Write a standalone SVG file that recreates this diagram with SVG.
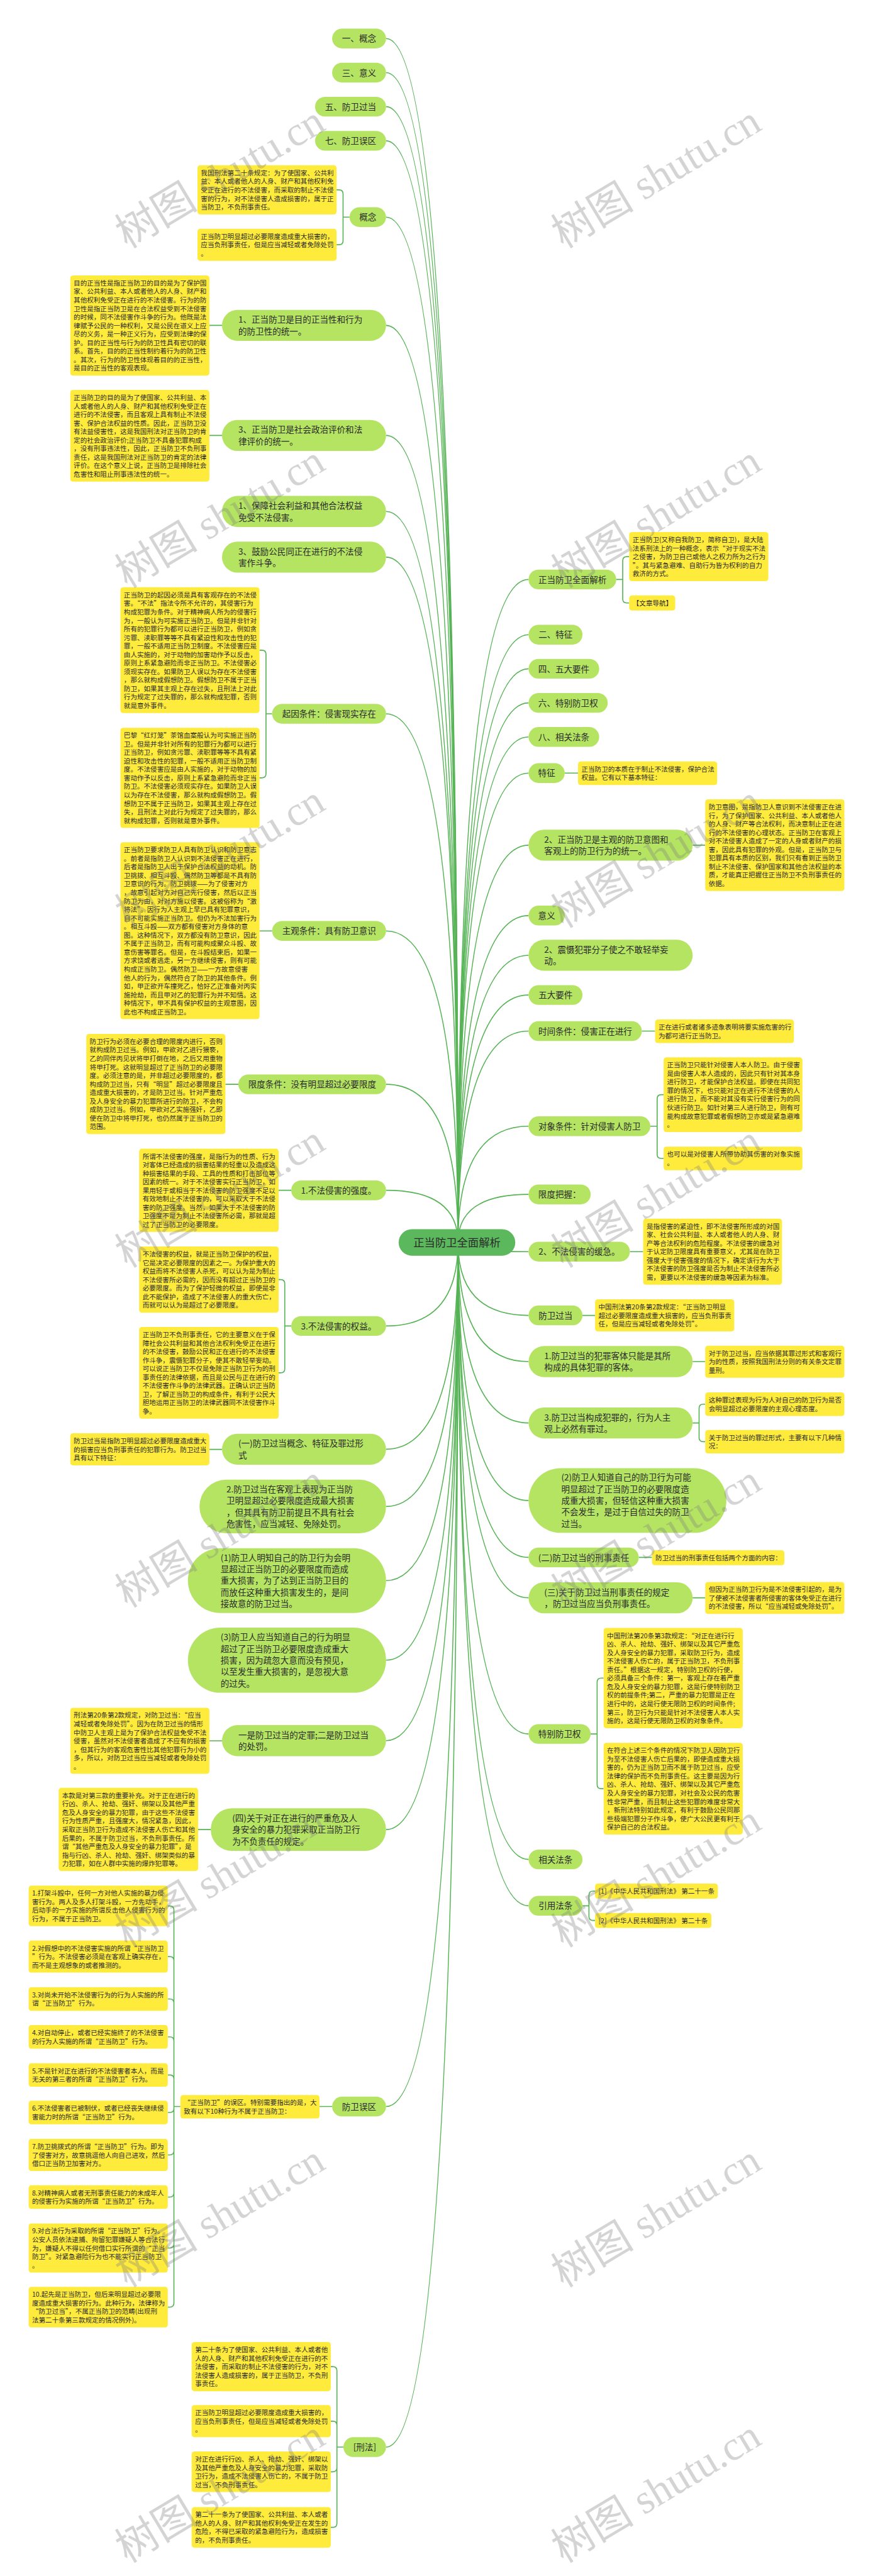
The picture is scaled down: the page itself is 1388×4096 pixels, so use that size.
<svg xmlns="http://www.w3.org/2000/svg" width="1388" height="4096" viewBox="0 0 1388 4096">
<style>
.n rect{fill:#b4e462}
.n text,.y text,.root text{font-family:"Noto Sans CJK SC","Noto Sans",sans-serif;fill:#2b2b2b}
.n text{font-size:25px}
.y rect{fill:#ffeb3b}
.y text{font-size:19.5px}
.root rect{fill:#5cb85c}
.root text{font-size:32px}
#connectors path{fill:none;stroke:#56b356;stroke-width:3}
.wm{font-family:"Liberation Serif","Noto Sans CJK SC",serif;font-size:122px;fill:#7f7f7f;opacity:.33}
</style>
<rect width="1388" height="4096" fill="#fff"/>
<g transform="scale(0.5422 0.5420)">
<g id="connectors">
<path d="M1132 113Q1343 113 1343 3645"/>
<path d="M1132 213Q1343 213 1343 3645"/>
<path d="M1132 313Q1343 313 1343 3645"/>
<path d="M1132 413Q1343 413 1343 3645"/>
<path d="M1132 637Q1343 637 1343 3645"/>
<path d="M1132 954.5Q1343 954.5 1343 3645"/>
<path d="M1132 1277.5Q1343 1277.5 1343 3645"/>
<path d="M1132 1500.5Q1343 1500.5 1343 3645"/>
<path d="M1132 1634.5Q1343 1634.5 1343 3645"/>
<path d="M1132 2094Q1343 2094 1343 3645"/>
<path d="M1132 2731Q1343 2731 1343 3645"/>
<path d="M1132 3181Q1343 3181 1343 3645"/>
<path d="M1132 3492Q1343 3492 1343 3645"/>
<path d="M1132 3890Q1343 3890 1343 3645"/>
<path d="M1132 4251.5Q1343 4251.5 1343 3645"/>
<path d="M1132 4419.5Q1343 4419.5 1343 3645"/>
<path d="M1132 4637Q1343 4637 1343 3645"/>
<path d="M1132 4870.5Q1343 4870.5 1343 3645"/>
<path d="M1132 5106.5Q1343 5106.5 1343 3645"/>
<path d="M1132 5367.5Q1343 5367.5 1343 3645"/>
<path d="M1132 6180Q1343 6180 1343 3645"/>
<path d="M1132 7179Q1343 7179 1343 3645"/>
<path d="M1550 1700Q1343 1700 1343 3645"/>
<path d="M1550 1862Q1343 1862 1343 3645"/>
<path d="M1550 1962Q1343 1962 1343 3645"/>
<path d="M1550 2062Q1343 2062 1343 3645"/>
<path d="M1550 2162Q1343 2162 1343 3645"/>
<path d="M1550 2268Q1343 2268 1343 3645"/>
<path d="M1550 2479.5Q1343 2479.5 1343 3645"/>
<path d="M1550 2686Q1343 2686 1343 3645"/>
<path d="M1550 2802.5Q1343 2802.5 1343 3645"/>
<path d="M1550 2919Q1343 2919 1343 3645"/>
<path d="M1550 3025Q1343 3025 1343 3645"/>
<path d="M1550 3304Q1343 3304 1343 3645"/>
<path d="M1550 3504Q1343 3504 1343 3645"/>
<path d="M1550 3672Q1343 3672 1343 3645"/>
<path d="M1550 3859Q1343 3859 1343 3645"/>
<path d="M1550 3994.5Q1343 3994.5 1343 3645"/>
<path d="M1550 4174.5Q1343 4174.5 1343 3645"/>
<path d="M1550 4402Q1343 4402 1343 3645"/>
<path d="M1550 4569Q1343 4569 1343 3645"/>
<path d="M1550 4687.5Q1343 4687.5 1343 3645"/>
<path d="M1550 5087Q1343 5087 1343 3645"/>
<path d="M1550 5455Q1343 5455 1343 3645"/>
<path d="M1550 5591Q1343 5591 1343 3645"/>
<path d="M1025 637H1006V569Q1006 557 994 557H987M1025 637H1006V706Q1006 718 994 718H987"/>
<path d="M614 954.5H651M614 1277.5H651"/>
<path d="M798 2094H780V1919.5Q780 1907.5 768 1907.5H761M798 2094H780V2270Q780 2282 768 2282H761"/>
<path d="M761 2731H798M661 3181H699M817 3492H854"/>
<path d="M854 3890H835V3766Q835 3754 823 3754H817M854 3890H835V4015.5Q835 4027.5 823 4027.5H817"/>
<path d="M614 4252H651M614 5107H651M581 5367.5H618M937 6180H974"/>
<path d="M529 6180H510V5603.5Q510 5591.5 498 5591.5H492M529 6180H510V5752Q510 5740 498 5740H492M529 6180H510V5876.5Q510 5864.5 498 5864.5H492M529 6180H510V5987.5Q510 5975.5 498 5975.5H492M529 6180H510V6099.5Q510 6087.5 498 6087.5H492M529 6180H510V6185.5Q510 6197.5 498 6197.5H492M529 6180H510V6310Q510 6322 498 6322H492M529 6180H510V6433.5Q510 6445.5 498 6445.5H492M529 6180H510V6583Q510 6595 498 6595H492M529 6180H510V6756.5Q510 6768.5 498 6768.5H492"/>
<path d="M1007 7179H988V6955Q988 6943 976 6943H970M1007 7179H988V7115Q988 7103 976 7103H970M1007 7179H988V7239.5Q988 7251.5 976 7251.5H970M1007 7179H988V7402.5Q988 7414.5 976 7414.5H970"/>
<path d="M1807 1700H1826V1645Q1826 1633 1838 1633H1845M1807 1700H1826V1757Q1826 1769 1838 1769H1845"/>
<path d="M1656 2268H1695M2031 2479.5H2068M1882 3025H1921"/>
<path d="M1907 3304H1927V3223.5Q1927 3211.5 1939 3211.5H1946M1907 3304H1927V3386.5Q1927 3398.5 1939 3398.5H1946"/>
<path d="M1847 3672H1886M1708 3859H1745M2031 3994.5H2068"/>
<path d="M2031 4174.5H2050V4131.5Q2050 4119.5 2062 4119.5H2068M2031 4174.5H2050V4217.5Q2050 4229.5 2062 4229.5H2068"/>
<path d="M1873 4569H1912M2031 4687.5H2068"/>
<path d="M1732 5087H1751V4935Q1751 4923 1763 4923H1770M1732 5087H1751V5235.5Q1751 5247.5 1763 5247.5H1770"/>
<path d="M1708 5591H1727V5560Q1727 5548 1739 5548H1745M1708 5591H1727V5622Q1727 5634 1739 5634H1745"/>
</g>

<g id="root" class="root"><rect x="1169" y="3606" width="342" height="78" rx="39"/><text x="1340" y="3657" text-anchor="middle">正当防卫全面解析</text></g>

<g id="l1" class="n"><rect x="974" y="84" width="158" height="58" rx="29"/><text x="1053" y="122.5" text-anchor="middle">一、概念</text></g>
<g id="l2" class="n"><rect x="974" y="184" width="158" height="58" rx="29"/><text x="1053" y="222.5" text-anchor="middle">三、意义</text></g>
<g id="l3" class="n"><rect x="924" y="284" width="208" height="58" rx="29"/><text x="1028" y="322.5" text-anchor="middle">五、防卫过当</text></g>
<g id="l4" class="n"><rect x="924" y="384" width="208" height="58" rx="29"/><text x="1028" y="422.5" text-anchor="middle">七、防卫误区</text></g>
<g id="l5" class="n"><rect x="1025" y="608" width="107" height="58" rx="29"/><text x="1078.5" y="646.5" text-anchor="middle">概念</text></g>
<g id="l6" class="n"><rect x="651" y="909" width="481" height="91" rx="45.5"/><text><tspan x="699" y="947">1、正当防卫是目的正当性和行为</tspan><tspan x="699" y="981">的防卫性的统一。</tspan></text></g>
<g id="l7" class="n"><rect x="651" y="1232" width="481" height="91" rx="45.5"/><text><tspan x="699" y="1270">3、正当防卫是社会政治评价和法</tspan><tspan x="699" y="1304">律评价的统一。</tspan></text></g>
<g id="l8" class="n"><rect x="651" y="1455" width="481" height="91" rx="45.5"/><text><tspan x="699" y="1493">1、保障社会利益和其他合法权益</tspan><tspan x="699" y="1527">免受不法侵害。</tspan></text></g>
<g id="l9" class="n"><rect x="651" y="1589" width="481" height="91" rx="45.5"/><text><tspan x="699" y="1627">3、鼓励公民同正在进行的不法侵</tspan><tspan x="699" y="1661">害作斗争。</tspan></text></g>
<g id="l10" class="n"><rect x="798" y="2065" width="334" height="58" rx="29"/><text x="965" y="2103.5" text-anchor="middle">起因条件：侵害现实存在</text></g>
<g id="l11" class="n"><rect x="798" y="2702" width="334" height="58" rx="29"/><text x="965" y="2740.5" text-anchor="middle">主观条件：具有防卫意识</text></g>
<g id="l12" class="n"><rect x="699" y="3152" width="433" height="58" rx="29"/><text x="915.5" y="3190.5" text-anchor="middle">限度条件：没有明显超过必要限度</text></g>
<g id="l13" class="n"><rect x="854" y="3463" width="278" height="58" rx="29"/><text x="993" y="3501.5" text-anchor="middle">1.不法侵害的强度。</text></g>
<g id="l14" class="n"><rect x="854" y="3861" width="278" height="58" rx="29"/><text x="993" y="3899.5" text-anchor="middle">3.不法侵害的权益。</text></g>
<g id="l15" class="n"><rect x="651" y="4206" width="481" height="91" rx="45.5"/><text><tspan x="699" y="4244">(一)防卫过当概念、特征及罪过形</tspan><tspan x="699" y="4278">式</tspan></text></g>
<g id="l16" class="n"><rect x="585" y="4341" width="547" height="157" rx="78.5"/><text><tspan x="664" y="4378">2.防卫过当在客观上表现为正当防</tspan><tspan x="664" y="4412">卫明显超过必要限度造成最大损害</tspan><tspan x="664" y="4446">，但其具有防卫前提且不具有社会</tspan><tspan x="664" y="4480">危害性，应当减轻、免除处罚。</tspan></text></g>
<g id="l17" class="n"><rect x="551" y="4542" width="581" height="190" rx="95"/><text><tspan x="647" y="4578.5">(1)防卫人明知自己的防卫行为会明</tspan><tspan x="647" y="4612.5">显超过正当防卫的必要限度而造成</tspan><tspan x="647" y="4646.5">重大损害，为了达到正当防卫目的</tspan><tspan x="647" y="4680.5">而放任这种重大损害发生的，是间</tspan><tspan x="647" y="4714.5">接故意的防卫过当。</tspan></text></g>
<g id="l18" class="n"><rect x="551" y="4775" width="581" height="191" rx="95"/><text><tspan x="647" y="4812">(3)防卫人应当知道自己的行为明显</tspan><tspan x="647" y="4846">超过了正当防卫必要限度造成重大</tspan><tspan x="647" y="4880">损害，因为疏忽大意而没有预见，</tspan><tspan x="647" y="4914">以至发生重大损害的，是忽视大意</tspan><tspan x="647" y="4948">的过失。</tspan></text></g>
<g id="l19" class="n"><rect x="651" y="5061" width="481" height="91" rx="45.5"/><text><tspan x="699" y="5099">一是防卫过当的定罪;二是防卫过当</tspan><tspan x="699" y="5133">的处罚。</tspan></text></g>
<g id="l20" class="n"><rect x="618" y="5305" width="514" height="125" rx="62"/><text><tspan x="681" y="5343">(四)关于对正在进行的严重危及人</tspan><tspan x="681" y="5377">身安全的暴力犯罪采取正当防卫行</tspan><tspan x="681" y="5411">为不负责任的规定。</tspan></text></g>
<g id="l21" class="n"><rect x="974" y="6151" width="158" height="58" rx="29"/><text x="1053" y="6189.5" text-anchor="middle">防卫误区</text></g>
<g id="l22" class="n"><rect x="1007" y="7150" width="125" height="58" rx="29"/><text x="1069.5" y="7188.5" text-anchor="middle">[刑法]</text></g>

<g id="r1" class="n"><rect x="1550" y="1671" width="257" height="58" rx="29"/><text x="1678.5" y="1709.5" text-anchor="middle">正当防卫全面解析</text></g>
<g id="r2" class="n"><rect x="1550" y="1833" width="158" height="58" rx="29"/><text x="1629" y="1871.5" text-anchor="middle">二、特征</text></g>
<g id="r3" class="n"><rect x="1550" y="1933" width="207" height="58" rx="29"/><text x="1653.5" y="1971.5" text-anchor="middle">四、五大要件</text></g>
<g id="r4" class="n"><rect x="1550" y="2033" width="232" height="58" rx="29"/><text x="1666" y="2071.5" text-anchor="middle">六、特别防卫权</text></g>
<g id="r5" class="n"><rect x="1550" y="2133" width="207" height="58" rx="29"/><text x="1653.5" y="2171.5" text-anchor="middle">八、相关法条</text></g>
<g id="r6" class="n"><rect x="1550" y="2239" width="106" height="58" rx="29"/><text x="1603" y="2277.5" text-anchor="middle">特征</text></g>
<g id="r7" class="n"><rect x="1550" y="2434" width="481" height="91" rx="45.5"/><text><tspan x="1596" y="2472">2、正当防卫是主观的防卫意图和</tspan><tspan x="1596" y="2506">客观上的防卫行为的统一。</tspan></text></g>
<g id="r8" class="n"><rect x="1550" y="2657" width="106" height="58" rx="29"/><text x="1603" y="2695.5" text-anchor="middle">意义</text></g>
<g id="r9" class="n"><rect x="1550" y="2757" width="481" height="91" rx="45.5"/><text><tspan x="1596" y="2795">2、震慑犯罪分子使之不敢轻举妄</tspan><tspan x="1596" y="2829">动。</tspan></text></g>
<g id="r10" class="n"><rect x="1550" y="2890" width="158" height="58" rx="29"/><text x="1629" y="2928.5" text-anchor="middle">五大要件</text></g>
<g id="r11" class="n"><rect x="1550" y="2996" width="332" height="58" rx="29"/><text x="1716" y="3034.5" text-anchor="middle">时间条件：侵害正在进行</text></g>
<g id="r12" class="n"><rect x="1550" y="3275" width="357" height="58" rx="29"/><text x="1728.5" y="3313.5" text-anchor="middle">对象条件：针对侵害人防卫</text></g>
<g id="r13" class="n"><rect x="1550" y="3475" width="182" height="58" rx="29"/><text x="1641" y="3513.5" text-anchor="middle">限度把握：</text></g>
<g id="r14" class="n"><rect x="1550" y="3643" width="297" height="58" rx="29"/><text x="1698.5" y="3681.5" text-anchor="middle">2、不法侵害的缓急。</text></g>
<g id="r15" class="n"><rect x="1550" y="3830" width="158" height="58" rx="29"/><text x="1629" y="3868.5" text-anchor="middle">防卫过当</text></g>
<g id="r16" class="n"><rect x="1550" y="3949" width="481" height="91" rx="45.5"/><text><tspan x="1596" y="3987">1.防卫过当的犯罪客体只能是其所</tspan><tspan x="1596" y="4021">构成的具体犯罪的客体。</tspan></text></g>
<g id="r17" class="n"><rect x="1550" y="4129" width="481" height="91" rx="45.5"/><text><tspan x="1596" y="4167">3.防卫过当构成犯罪的，行为人主</tspan><tspan x="1596" y="4201">观上必然有罪过。</tspan></text></g>
<g id="r18" class="n"><rect x="1550" y="4307" width="580" height="190" rx="95"/><text><tspan x="1646" y="4343.5">(2)防卫人知道自己的防卫行为可能</tspan><tspan x="1646" y="4377.5">明显超过了正当防卫的必要限度造</tspan><tspan x="1646" y="4411.5">成重大损害，但轻信这种重大损害</tspan><tspan x="1646" y="4445.5">不会发生，是过于自信过失的防卫</tspan><tspan x="1646" y="4479.5">过当。</tspan></text></g>
<g id="r19" class="n"><rect x="1550" y="4540" width="323" height="58" rx="29"/><text x="1711.5" y="4578.5" text-anchor="middle">(二)防卫过当的刑事责任</text></g>
<g id="r20" class="n"><rect x="1550" y="4642" width="481" height="91" rx="45.5"/><text><tspan x="1596" y="4680">(三)关于防卫过当刑事责任的规定</tspan><tspan x="1596" y="4714">，防卫过当应当负刑事责任。</tspan></text></g>
<g id="r21" class="n"><rect x="1550" y="5058" width="182" height="58" rx="29"/><text x="1641" y="5096.5" text-anchor="middle">特别防卫权</text></g>
<g id="r22" class="n"><rect x="1550" y="5426" width="158" height="58" rx="29"/><text x="1629" y="5464.5" text-anchor="middle">相关法条</text></g>
<g id="r23" class="n"><rect x="1550" y="5562" width="158" height="58" rx="29"/><text x="1629" y="5600.5" text-anchor="middle">引用法条</text></g>

<g id="bA1" class="y"><rect x="579" y="485" width="408" height="144" rx="8"/><text><tspan x="589" y="514.5">我国刑法第二十条规定：为了使国家、公共利</tspan><tspan x="589" y="539.5">益、本人或者他人的人身、财产和其他权利免</tspan><tspan x="589" y="564.5">受正在进行的不法侵害，而采取的制止不法侵</tspan><tspan x="589" y="589.5">害的行为，对不法侵害人造成损害的，属于正</tspan><tspan x="589" y="614.5">当防卫，不负刑事责任。</tspan></text></g>
<g id="bA2" class="y"><rect x="579" y="671" width="408" height="94" rx="8"/><text><tspan x="589" y="700.5">正当防卫明显超过必要限度造成重大损害的，</tspan><tspan x="589" y="725.5">应当负刑事责任，但是应当减轻或者免除处罚</tspan><tspan x="589" y="750.5">。</tspan></text></g>
<g id="bB1" class="y"><rect x="206" y="808" width="408" height="294" rx="8"/><text><tspan x="216" y="837.5">目的正当性是指正当防卫的目的是为了保护国</tspan><tspan x="216" y="862.5">家、公共利益、本人或者他人的人身、财产和</tspan><tspan x="216" y="887.5">其他权利免受正在进行的不法侵害。行为的防</tspan><tspan x="216" y="912.5">卫性是指正当防卫是在合法权益受到不法侵害</tspan><tspan x="216" y="937.5">的时候，同不法侵害作斗争的行为。他既是法</tspan><tspan x="216" y="962.5">律赋予公民的一种权利，又是公民在道义上应</tspan><tspan x="216" y="987.5">尽的义务，是一种正义行为，应受到法律的保</tspan><tspan x="216" y="1012.5">护。目的正当性与行为的防卫性具有密切的联</tspan><tspan x="216" y="1037.5">系。首先，目的的正当性制约着行为的防卫性</tspan><tspan x="216" y="1062.5">。其次，行为的防卫性体现着目的的正当性，</tspan><tspan x="216" y="1087.5">是目的正当性的客观表现。</tspan></text></g>
<g id="bB2" class="y"><rect x="206" y="1144" width="408" height="269" rx="8"/><text><tspan x="216" y="1173.5">正当防卫的目的是为了使国家、公共利益、本</tspan><tspan x="216" y="1198.5">人或者他人的人身、财产和其他权利免受正在</tspan><tspan x="216" y="1223.5">进行的不法侵害，而且客观上具有制止不法侵</tspan><tspan x="216" y="1248.5">害、保护合法权益的性质。因此，正当防卫没</tspan><tspan x="216" y="1273.5">有法益侵害性，这是我国刑法对正当防卫的肯</tspan><tspan x="216" y="1298.5">定的社会政治评价;正当防卫不具备犯罪构成</tspan><tspan x="216" y="1323.5">，没有刑事违法性，因此，正当防卫不负刑事</tspan><tspan x="216" y="1348.5">责任，这是我国刑法对正当防卫的肯定的法律</tspan><tspan x="216" y="1373.5">评价。在这个意义上说，正当防卫是排除社会</tspan><tspan x="216" y="1398.5">危害性和阻止刑事违法性的统一。</tspan></text></g>
<g id="bC1" class="y"><rect x="353" y="1723" width="408" height="369" rx="8"/><text><tspan x="363" y="1752.5">正当防卫的起因必须是具有客观存在的不法侵</tspan><tspan x="363" y="1777.5">害。“不法”指法令所不允许的，其侵害行为</tspan><tspan x="363" y="1802.5">构成犯罪为条件。对于精神病人所为的侵害行</tspan><tspan x="363" y="1827.5">为，一般认为可实施正当防卫。但是并非针对</tspan><tspan x="363" y="1852.5">所有的犯罪行为都可以进行正当防卫，例如贪</tspan><tspan x="363" y="1877.5">污罪、渎职罪等等不具有紧迫性和攻击性的犯</tspan><tspan x="363" y="1902.5">罪，一般不适用正当防卫制度。不法侵害应是</tspan><tspan x="363" y="1927.5">由人实施的，对于动物的加害动作予以反击，</tspan><tspan x="363" y="1952.5">原则上系紧急避险而非正当防卫。不法侵害必</tspan><tspan x="363" y="1977.5">须现实存在。如果防卫人误以为存在不法侵害</tspan><tspan x="363" y="2002.5">，那么就构成假想防卫。假想防卫不属于正当</tspan><tspan x="363" y="2027.5">防卫，如果其主观上存在过失，且刑法上对此</tspan><tspan x="363" y="2052.5">行为规定了过失罪的，那么就构成犯罪，否则</tspan><tspan x="363" y="2077.5">就是意外事件。</tspan></text></g>
<g id="bC2" class="y"><rect x="353" y="2135" width="408" height="294" rx="8"/><text><tspan x="363" y="2164.5">巴黎“红灯笼”茶馆血案般认为可实施正当防</tspan><tspan x="363" y="2189.5">卫。但是并非针对所有的犯罪行为都可以进行</tspan><tspan x="363" y="2214.5">正当防卫，例如贪污罪、渎职罪等等不具有紧</tspan><tspan x="363" y="2239.5">迫性和攻击性的犯罪，一般不适用正当防卫制</tspan><tspan x="363" y="2264.5">度。不法侵害应是由人实施的，对于动物的加</tspan><tspan x="363" y="2289.5">害动作予以反击，原则上系紧急避险而非正当</tspan><tspan x="363" y="2314.5">防卫。不法侵害必须现实存在。如果防卫人误</tspan><tspan x="363" y="2339.5">以为存在不法侵害，那么就构成假想防卫。假</tspan><tspan x="363" y="2364.5">想防卫不属于正当防卫，如果其主观上存在过</tspan><tspan x="363" y="2389.5">失，且刑法上对此行为规定了过失罪的，那么</tspan><tspan x="363" y="2414.5">就构成犯罪，否则就是意外事件。</tspan></text></g>
<g id="bD1" class="y"><rect x="353" y="2471" width="408" height="519" rx="8"/><text><tspan x="363" y="2500.5">正当防卫要求防卫人具有防卫认识和防卫意志</tspan><tspan x="363" y="2525.5">。前者是指防卫人认识到不法侵害正在进行，</tspan><tspan x="363" y="2550.5">后者是指防卫人出于保护合法权益的动机。防</tspan><tspan x="363" y="2575.5">卫挑拨、相互斗殴、偶然防卫等都是不具有防</tspan><tspan x="363" y="2600.5">卫意识的行为。防卫挑拨——为了侵害对方</tspan><tspan x="363" y="2625.5">，故意引起对方对自己先行侵害，然后以正当</tspan><tspan x="363" y="2650.5">防卫为由，对对方施以侵害。这被俗称为“激</tspan><tspan x="363" y="2675.5">将法”。因行为人主观上早已具有犯罪意识，</tspan><tspan x="363" y="2700.5">自不可能实施正当防卫。但仍为不法加害行为</tspan><tspan x="363" y="2725.5">。相互斗殴——双方都有侵害对方身体的意</tspan><tspan x="363" y="2750.5">图。这种情况下，双方都没有防卫意识，因此</tspan><tspan x="363" y="2775.5">不属于正当防卫，而有可能构成聚众斗殴、故</tspan><tspan x="363" y="2800.5">意伤害等罪名。但是，在斗殴结束后，如果一</tspan><tspan x="363" y="2825.5">方求饶或者逃走，另一方继续侵害，则有可能</tspan><tspan x="363" y="2850.5">构成正当防卫。偶然防卫——一方故意侵害</tspan><tspan x="363" y="2875.5">他人的行为，偶然符合了防卫的其他条件。例</tspan><tspan x="363" y="2900.5">如，甲正欲开车撞死乙，恰好乙正准备对丙实</tspan><tspan x="363" y="2925.5">施抢劫，而且甲对乙的犯罪行为并不知情。这</tspan><tspan x="363" y="2950.5">种情况下，甲不具有保护权益的主观意图，因</tspan><tspan x="363" y="2975.5">此也不构成正当防卫。</tspan></text></g>
<g id="bE" class="y"><rect x="253" y="3033" width="408" height="294" rx="8"/><text><tspan x="263" y="3062.5">防卫行为必须在必要合理的限度内进行，否则</tspan><tspan x="263" y="3087.5">就构成防卫过当。例如，甲欲对乙进行猥亵，</tspan><tspan x="263" y="3112.5">乙的同伴丙见状将甲打倒在地，之后又用重物</tspan><tspan x="263" y="3137.5">将甲打死。这就明显超过了正当防卫的必要限</tspan><tspan x="263" y="3162.5">度。必须注意的是，并非超过必要限度的，都</tspan><tspan x="263" y="3187.5">构成防卫过当，只有“明显”超过必要限度且</tspan><tspan x="263" y="3212.5">造成重大损害的，才是防卫过当。针对严重危</tspan><tspan x="263" y="3237.5">及人身安全的暴力犯罪所进行的防卫，不会构</tspan><tspan x="263" y="3262.5">成防卫过当。例如，甲欲对乙实施强奸，乙即</tspan><tspan x="263" y="3287.5">使在防卫中将甲打死，也仍然属于正当防卫的</tspan><tspan x="263" y="3312.5">范围。</tspan></text></g>
<g id="bF" class="y"><rect x="408" y="3370" width="409" height="244" rx="8"/><text><tspan x="418" y="3399.5">所谓不法侵害的强度，是指行为的性质、行为</tspan><tspan x="418" y="3424.5">对客体已经造成的损害结果的轻重以及造成这</tspan><tspan x="418" y="3449.5">种损害结果的手段、工具的性质和打击部位等</tspan><tspan x="418" y="3474.5">因素的统一。对于不法侵害实行正当防卫，如</tspan><tspan x="418" y="3499.5">果用轻于或相当于不法侵害的防卫强度不足以</tspan><tspan x="418" y="3524.5">有效地制止不法侵害的，可以采取大于不法侵</tspan><tspan x="418" y="3549.5">害的防卫强度。当然，如果大于不法侵害的防</tspan><tspan x="418" y="3574.5">卫强度不是为制止不法侵害所必需，那就是超</tspan><tspan x="418" y="3599.5">过了正当防卫的必要限度。</tspan></text></g>
<g id="bG" class="y"><rect x="408" y="3657" width="409" height="194" rx="8"/><text><tspan x="418" y="3686.5">不法侵害的权益，就是正当防卫保护的权益，</tspan><tspan x="418" y="3711.5">它是决定必要限度的因素之一。为保护重大的</tspan><tspan x="418" y="3736.5">权益而将不法侵害人杀死，可以认为是为制止</tspan><tspan x="418" y="3761.5">不法侵害所必需的，因而没有超过正当防卫的</tspan><tspan x="418" y="3786.5">必要限度。而为了保护轻微的权益，即使是非</tspan><tspan x="418" y="3811.5">此不能保护，造成了不法侵害人的重大伤亡，</tspan><tspan x="418" y="3836.5">而就可以认为是超过了必要限度。</tspan></text></g>
<g id="bH" class="y"><rect x="408" y="3893" width="409" height="269" rx="8"/><text><tspan x="418" y="3922.5">正当防卫不负刑事责任，它的主要意义在于保</tspan><tspan x="418" y="3947.5">障社会公共利益和其他合法权利免受正在进行</tspan><tspan x="418" y="3972.5">的不法侵害，鼓励公民和正在进行的不法侵害</tspan><tspan x="418" y="3997.5">作斗争，震慑犯罪分子，使其不敢轻举妄动。</tspan><tspan x="418" y="4022.5">可以说正当防卫不仅是免除正当防卫行为的刑</tspan><tspan x="418" y="4047.5">事责任的法律依据，而且是公民与正在进行的</tspan><tspan x="418" y="4072.5">不法侵害作斗争的法律武器。正确认识正当防</tspan><tspan x="418" y="4097.5">卫，了解正当防卫的构成条件，有利于公民大</tspan><tspan x="418" y="4122.5">胆地运用正当防卫的法律武器同不法侵害作斗</tspan><tspan x="418" y="4147.5">争。</tspan></text></g>
<g id="bI" class="y"><rect x="206" y="4205" width="408" height="94" rx="8"/><text><tspan x="216" y="4234.5">防卫过当是指防卫明显超过必要限度造成重大</tspan><tspan x="216" y="4259.5">的损害应当负刑事责任的犯罪行为。防卫过当</tspan><tspan x="216" y="4284.5">具有以下特征：</tspan></text></g>
<g id="bJ" class="y"><rect x="206" y="5010" width="408" height="194" rx="8"/><text><tspan x="216" y="5039.5">刑法第20条第2款规定，对防卫过当：“应当</tspan><tspan x="216" y="5064.5">减轻或者免除处罚”。因为在防卫过当的情形</tspan><tspan x="216" y="5089.5">中防卫人主观上是为了保护合法权益免受不法</tspan><tspan x="216" y="5114.5">侵害，虽然对不法侵害者造成了不应有的损害</tspan><tspan x="216" y="5139.5">，但其行为的客观危害性比其他犯罪行为小的</tspan><tspan x="216" y="5164.5">多，所以，对防卫过当应当减轻或者免除处罚</tspan><tspan x="216" y="5189.5">。</tspan></text></g>
<g id="bK" class="y"><rect x="172" y="5245" width="409" height="244" rx="8"/><text><tspan x="182" y="5274.5">本款是对第三款的重要补充。对于正在进行的</tspan><tspan x="182" y="5299.5">行凶、杀人、抢劫、强奸、绑架以及其他严重</tspan><tspan x="182" y="5324.5">危及人身安全的暴力犯罪，由于这些不法侵害</tspan><tspan x="182" y="5349.5">行为性质严重，且强度大，情况紧急，因此，</tspan><tspan x="182" y="5374.5">采取正当防卫行为造成不法侵害人伤亡和其他</tspan><tspan x="182" y="5399.5">后果的，不属于防卫过当，不负刑事责任。所</tspan><tspan x="182" y="5424.5">谓“其他严重危及人身安全的暴力犯罪”，是</tspan><tspan x="182" y="5449.5">指与行凶、杀人、抢劫、强奸、绑架类似的暴</tspan><tspan x="182" y="5474.5">力犯罪，如在人群中实施的爆炸犯罪等。</tspan></text></g>
<g id="bM" class="y"><rect x="529" y="6146" width="408" height="69" rx="8"/><text><tspan x="539" y="6175.5">“正当防卫”的误区。特别需要指出的是，大</tspan><tspan x="539" y="6200.5">致有以下10种行为不属于正当防卫：</tspan></text></g>
<g id="bL1" class="y"><rect x="84" y="5532" width="408" height="119" rx="8"/><text><tspan x="94" y="5561.5">1.打架斗殴中，任何一方对他人实施的暴力侵</tspan><tspan x="94" y="5586.5">害行为。两人及多人打架斗殴，一方先动手，</tspan><tspan x="94" y="5611.5">后动手的一方实施的所谓反击他人侵害行为的</tspan><tspan x="94" y="5636.5">行为，不属于正当防卫。</tspan></text></g>
<g id="bL2" class="y"><rect x="84" y="5693" width="408" height="94" rx="8"/><text><tspan x="94" y="5722.5">2.对假想中的不法侵害实施的所谓“正当防卫</tspan><tspan x="94" y="5747.5">”行为。不法侵害必须是在客观上确实存在，</tspan><tspan x="94" y="5772.5">而不是主观想象的或者推测的。</tspan></text></g>
<g id="bL3" class="y"><rect x="84" y="5830" width="408" height="69" rx="8"/><text><tspan x="94" y="5859.5">3.对尚未开始不法侵害行为的行为人实施的所</tspan><tspan x="94" y="5884.5">谓“正当防卫”行为。</tspan></text></g>
<g id="bL4" class="y"><rect x="84" y="5941" width="408" height="69" rx="8"/><text><tspan x="94" y="5970.5">4.对自动停止，或者已经实施终了的不法侵害</tspan><tspan x="94" y="5995.5">的行为人实施的所谓“正当防卫”行为。</tspan></text></g>
<g id="bL5" class="y"><rect x="84" y="6053" width="408" height="69" rx="8"/><text><tspan x="94" y="6082.5">5.不是针对正在进行的不法侵害者本人，而是</tspan><tspan x="94" y="6107.5">无关的第三者的所谓“正当防卫”行为。</tspan></text></g>
<g id="bL6" class="y"><rect x="84" y="6163" width="408" height="69" rx="8"/><text><tspan x="94" y="6192.5">6.不法侵害者已被制伏，或者已经丧失继续侵</tspan><tspan x="94" y="6217.5">害能力时的所谓“正当防卫”行为。</tspan></text></g>
<g id="bL7" class="y"><rect x="84" y="6275" width="408" height="94" rx="8"/><text><tspan x="94" y="6304.5">7.防卫挑拨式的所谓“正当防卫”行为。即为</tspan><tspan x="94" y="6329.5">了侵害对方，故意挑逗他人向自己进攻，然后</tspan><tspan x="94" y="6354.5">借口正当防卫加害对方。</tspan></text></g>
<g id="bL8" class="y"><rect x="84" y="6411" width="408" height="69" rx="8"/><text><tspan x="94" y="6440.5">8.对精神病人或者无刑事责任能力的未成年人</tspan><tspan x="94" y="6465.5">的侵害行为实施的所谓“正当防卫”行为。</tspan></text></g>
<g id="bL9" class="y"><rect x="84" y="6523" width="408" height="144" rx="8"/><text><tspan x="94" y="6552.5">9.对合法行为采取的所谓“正当防卫”行为。</tspan><tspan x="94" y="6577.5">公安人员依法逮捕、拘留犯罪嫌疑人等合法行</tspan><tspan x="94" y="6602.5">为，嫌疑人不得以任何借口实行所谓的“正当</tspan><tspan x="94" y="6627.5">防卫”。对紧急避险行为也不能实行正当防卫</tspan><tspan x="94" y="6652.5">。</tspan></text></g>
<g id="bL10" class="y"><rect x="84" y="6709" width="408" height="119" rx="8"/><text><tspan x="94" y="6738.5">10.起先是正当防卫，但后来明显超过必要限</tspan><tspan x="94" y="6763.5">度造成重大损害的行为。此种行为，法律称为</tspan><tspan x="94" y="6788.5">“防卫过当”，不属正当防卫的范畴(出现刑</tspan><tspan x="94" y="6813.5">法第二十条第三款规定的情况例外)。</tspan></text></g>
<g id="bP1" class="y"><rect x="562" y="6871" width="408" height="144" rx="8"/><text><tspan x="572" y="6900.5">第二十条为了使国家、公共利益、本人或者他</tspan><tspan x="572" y="6925.5">人的人身、财产和其他权利免受正在进行的不</tspan><tspan x="572" y="6950.5">法侵害，而采取的制止不法侵害的行为，对不</tspan><tspan x="572" y="6975.5">法侵害人造成损害的，属于正当防卫，不负刑</tspan><tspan x="572" y="7000.5">事责任。</tspan></text></g>
<g id="bP2" class="y"><rect x="562" y="7056" width="408" height="94" rx="8"/><text><tspan x="572" y="7085.5">正当防卫明显超过必要限度造成重大损害的，</tspan><tspan x="572" y="7110.5">应当负刑事责任，但是应当减轻或者免除处罚</tspan><tspan x="572" y="7135.5">。</tspan></text></g>
<g id="bP3" class="y"><rect x="562" y="7192" width="408" height="119" rx="8"/><text><tspan x="572" y="7221.5">对正在进行行凶、杀人、抢劫、强奸、绑架以</tspan><tspan x="572" y="7246.5">及其他严重危及人身安全的暴力犯罪，采取防</tspan><tspan x="572" y="7271.5">卫行为，造成不法侵害人伤亡的，不属于防卫</tspan><tspan x="572" y="7296.5">过当，不负刑事责任。</tspan></text></g>
<g id="bP4" class="y"><rect x="562" y="7355" width="408" height="119" rx="8"/><text><tspan x="572" y="7384.5">第二十一条为了使国家、公共利益、本人或者</tspan><tspan x="572" y="7409.5">他人的人身、财产和其他权利免受正在发生的</tspan><tspan x="572" y="7434.5">危险，不得已采取的紧急避险行为，造成损害</tspan><tspan x="572" y="7459.5">的，不负刑事责任。</tspan></text></g>

<g id="bR1" class="y"><rect x="1845" y="1561" width="408" height="144" rx="8"/><text><tspan x="1855" y="1590.5">正当防卫(又称自我防卫，简称自卫)，是大陆</tspan><tspan x="1855" y="1615.5">法系刑法上的一种概念，表示“对于现实不法</tspan><tspan x="1855" y="1640.5">之侵害，为防卫自己或他人之权力所为之行为</tspan><tspan x="1855" y="1665.5">”。其与紧急避难、自助行为皆为权利的自力</tspan><tspan x="1855" y="1690.5">救济的方式。</tspan></text></g>
<g id="bR2" class="y"><rect x="1845" y="1747" width="135" height="44" rx="8"/><text><tspan x="1855" y="1776.5">【文章导航】</tspan></text></g>
<g id="bS0" class="y"><rect x="1695" y="2234" width="408" height="69" rx="8"/><text><tspan x="1705" y="2263.5">正当防卫的本质在于制止不法侵害，保护合法</tspan><tspan x="1705" y="2288.5">权益。它有以下基本特征：</tspan></text></g>
<g id="bR3" class="y"><rect x="2068" y="2345" width="408" height="269" rx="8"/><text><tspan x="2078" y="2374.5">防卫意图，是指防卫人意识到不法侵害正在进</tspan><tspan x="2078" y="2399.5">行，为了保护国家、公共利益、本人或者他人</tspan><tspan x="2078" y="2424.5">的人身、财产等合法权利，而决意制止正在进</tspan><tspan x="2078" y="2449.5">行的不法侵害的心理状态。正当防卫在客观上</tspan><tspan x="2078" y="2474.5">对不法侵害人造成了一定的人身或者财产的损</tspan><tspan x="2078" y="2499.5">害，因此具有犯罪的外观。但是，正当防卫与</tspan><tspan x="2078" y="2524.5">犯罪具有本质的区别，我们只有看到正当防卫</tspan><tspan x="2078" y="2549.5">制止不法侵害、保护国家和其他合法权益的本</tspan><tspan x="2078" y="2574.5">质，才能真正把握住正当防卫不负刑事责任的</tspan><tspan x="2078" y="2599.5">依据。</tspan></text></g>
<g id="bT0" class="y"><rect x="1921" y="2991" width="407" height="69" rx="8"/><text><tspan x="1931" y="3020.5">正在进行或者诸多迹象表明将要实施危害的行</tspan><tspan x="1931" y="3045.5">为都可进行正当防卫。</tspan></text></g>
<g id="bT1" class="y"><rect x="1946" y="3102" width="407" height="219" rx="8"/><text><tspan x="1956" y="3131.5">正当防卫只能针对侵害人本人防卫。由于侵害</tspan><tspan x="1956" y="3156.5">是由侵害人本人造成的，因此只有针对其本身</tspan><tspan x="1956" y="3181.5">进行防卫，才能保护合法权益。即使在共同犯</tspan><tspan x="1956" y="3206.5">罪的情况下，也只能对正在进行不法侵害的人</tspan><tspan x="1956" y="3231.5">进行防卫，而不能对其没有实行侵害行为的同</tspan><tspan x="1956" y="3256.5">伙进行防卫。如针对第三人进行防卫，则有可</tspan><tspan x="1956" y="3281.5">能构成故意犯罪或者假想防卫亦或是紧急避难</tspan><tspan x="1956" y="3306.5">。</tspan></text></g>
<g id="bT2" class="y"><rect x="1946" y="3364" width="407" height="69" rx="8"/><text><tspan x="1956" y="3393.5">也可以是对侵害人所带协助其伤害的对象实施</tspan><tspan x="1956" y="3418.5">。</tspan></text></g>
<g id="bU" class="y"><rect x="1886" y="3575" width="407" height="194" rx="8"/><text><tspan x="1896" y="3604.5">是指侵害的紧迫性，即不法侵害所形成的对国</tspan><tspan x="1896" y="3629.5">家、社会公共利益、本人或者他人的人身、财</tspan><tspan x="1896" y="3654.5">产等合法权利的危险程度。不法侵害的缓急对</tspan><tspan x="1896" y="3679.5">于认定防卫限度具有重要意义，尤其是在防卫</tspan><tspan x="1896" y="3704.5">强度大于侵害强度的情况下，确定该行为大于</tspan><tspan x="1896" y="3729.5">不法侵害的防卫强度是否为制止不法侵害所必</tspan><tspan x="1896" y="3754.5">需，更要以不法侵害的缓急等因素为标准。</tspan></text></g>
<g id="bV" class="y"><rect x="1745" y="3812" width="408" height="94" rx="8"/><text><tspan x="1755" y="3841.5">中国刑法第20条第2款规定：“正当防卫明显</tspan><tspan x="1755" y="3866.5">超过必要限度造成重大损害的，应当负刑事责</tspan><tspan x="1755" y="3891.5">任，但是应当减轻或者免除处罚”。</tspan></text></g>
<g id="bW" class="y"><rect x="2068" y="3948" width="408" height="94" rx="8"/><text><tspan x="2078" y="3977.5">对于防卫过当，应当依据其罪过形式和客观行</tspan><tspan x="2078" y="4002.5">为的性质，按照我国刑法分则的有关条文定罪</tspan><tspan x="2078" y="4027.5">量刑。</tspan></text></g>
<g id="bS1" class="y"><rect x="2068" y="4085" width="408" height="69" rx="8"/><text><tspan x="2078" y="4114.5">这种罪过表现为行为人对自己的防卫行为是否</tspan><tspan x="2078" y="4139.5">会明显超过必要限度的主观心理态度。</tspan></text></g>
<g id="bS2" class="y"><rect x="2068" y="4195" width="408" height="69" rx="8"/><text><tspan x="2078" y="4224.5">关于防卫过当的罪过形式，主要有以下几种情</tspan><tspan x="2078" y="4249.5">况：</tspan></text></g>
<g id="bX" class="y"><rect x="1912" y="4548" width="388" height="44" rx="8"/><text><tspan x="1922" y="4577.5">防卫过当的刑事责任包括两个方面的内容：</tspan></text></g>
<g id="bY" class="y"><rect x="2068" y="4641" width="408" height="94" rx="8"/><text><tspan x="2078" y="4670.5">但因为正当防卫行为是不法侵害引起的，是为</tspan><tspan x="2078" y="4695.5">了使被不法侵害者所侵害的客体免受正在进行</tspan><tspan x="2078" y="4720.5">的不法侵害，所以“应当减轻或免除处罚”。</tspan></text></g>
<g id="bSD1" class="y"><rect x="1770" y="4776" width="408" height="294" rx="8"/><text><tspan x="1780" y="4805.5">中国刑法第20条第3款规定：“对正在进行行</tspan><tspan x="1780" y="4830.5">凶、杀人、抢劫、强奸、绑架以及其它严重危</tspan><tspan x="1780" y="4855.5">及人身安全的暴力犯罪，采取防卫行为，造成</tspan><tspan x="1780" y="4880.5">不法侵害人伤亡的，属于正当防卫，不负刑事</tspan><tspan x="1780" y="4905.5">责任。”根据这一规定，特别防卫权的行使，</tspan><tspan x="1780" y="4930.5">必须具备三个条件：第一，客观上存在着严重</tspan><tspan x="1780" y="4955.5">危及人身安全的暴力犯罪，这是行使特别防卫</tspan><tspan x="1780" y="4980.5">权的前提条件;第二，严重的暴力犯罪是正在</tspan><tspan x="1780" y="5005.5">进行中的，这是行使无限防卫权的时间条件;</tspan><tspan x="1780" y="5030.5">第三，防卫行为只能是针对不法侵害人本人实</tspan><tspan x="1780" y="5055.5">施的，这是行使无限防卫权的对象条件。</tspan></text></g>
<g id="bSD2" class="y"><rect x="1770" y="5113" width="408" height="269" rx="8"/><text><tspan x="1780" y="5142.5">在符合上述三个条件的情况下防卫人因防卫行</tspan><tspan x="1780" y="5167.5">为至不法侵害人伤亡后果的，即使造成重大损</tspan><tspan x="1780" y="5192.5">害的，仍为正当防卫而不属于防卫过当，应受</tspan><tspan x="1780" y="5217.5">法律的保护而不负刑事责任。这主要是因为行</tspan><tspan x="1780" y="5242.5">凶、杀人、抢劫、强奸、绑架以及其它严重危</tspan><tspan x="1780" y="5267.5">及人身安全的暴力犯罪，对社会及公民的危害</tspan><tspan x="1780" y="5292.5">性非常严重，而且制止这些犯罪的难度非常大</tspan><tspan x="1780" y="5317.5">，新刑法特别如此规定，有利于鼓励公民同那</tspan><tspan x="1780" y="5342.5">些极端犯罪分子作斗争，使广大公民更有利于</tspan><tspan x="1780" y="5367.5">保护自己的合法权益。</tspan></text></g>
<g id="bQ1" class="y"><rect x="1745" y="5526" width="360" height="44" rx="8"/><text><tspan x="1755" y="5555.5">[1]《中华人民共和国刑法》 第二十一条</tspan></text></g>
<g id="bQ2" class="y"><rect x="1745" y="5612" width="341" height="44" rx="8"/><text><tspan x="1755" y="5641.5">[2]《中华人民共和国刑法》 第二十条</tspan></text></g>

<g id="watermarks">
<text class="wm" x="646" y="560" text-anchor="middle" transform="rotate(-31 646 520)">树图 shutu.cn</text>
<text class="wm" x="1925" y="560" text-anchor="middle" transform="rotate(-31 1925 520)">树图 shutu.cn</text>
<text class="wm" x="646" y="1557" text-anchor="middle" transform="rotate(-31 646 1517)">树图 shutu.cn</text>
<text class="wm" x="1925" y="1557" text-anchor="middle" transform="rotate(-31 1925 1517)">树图 shutu.cn</text>
<text class="wm" x="646" y="2554" text-anchor="middle" transform="rotate(-31 646 2514)">树图 shutu.cn</text>
<text class="wm" x="1925" y="2554" text-anchor="middle" transform="rotate(-31 1925 2514)">树图 shutu.cn</text>
<text class="wm" x="646" y="3551" text-anchor="middle" transform="rotate(-31 646 3511)">树图 shutu.cn</text>
<text class="wm" x="1925" y="3551" text-anchor="middle" transform="rotate(-31 1925 3511)">树图 shutu.cn</text>
<text class="wm" x="646" y="4548" text-anchor="middle" transform="rotate(-31 646 4508)">树图 shutu.cn</text>
<text class="wm" x="1925" y="4548" text-anchor="middle" transform="rotate(-31 1925 4508)">树图 shutu.cn</text>
<text class="wm" x="646" y="5545" text-anchor="middle" transform="rotate(-31 646 5505)">树图 shutu.cn</text>
<text class="wm" x="1925" y="5545" text-anchor="middle" transform="rotate(-31 1925 5505)">树图 shutu.cn</text>
<text class="wm" x="646" y="6542" text-anchor="middle" transform="rotate(-31 646 6502)">树图 shutu.cn</text>
<text class="wm" x="1925" y="6542" text-anchor="middle" transform="rotate(-31 1925 6502)">树图 shutu.cn</text>
<text class="wm" x="646" y="7350" text-anchor="middle" transform="rotate(-31 646 7310)">树图 shutu.cn</text>
<text class="wm" x="1925" y="7350" text-anchor="middle" transform="rotate(-31 1925 7310)">树图 shutu.cn</text>
</g>
</g>
</svg>
